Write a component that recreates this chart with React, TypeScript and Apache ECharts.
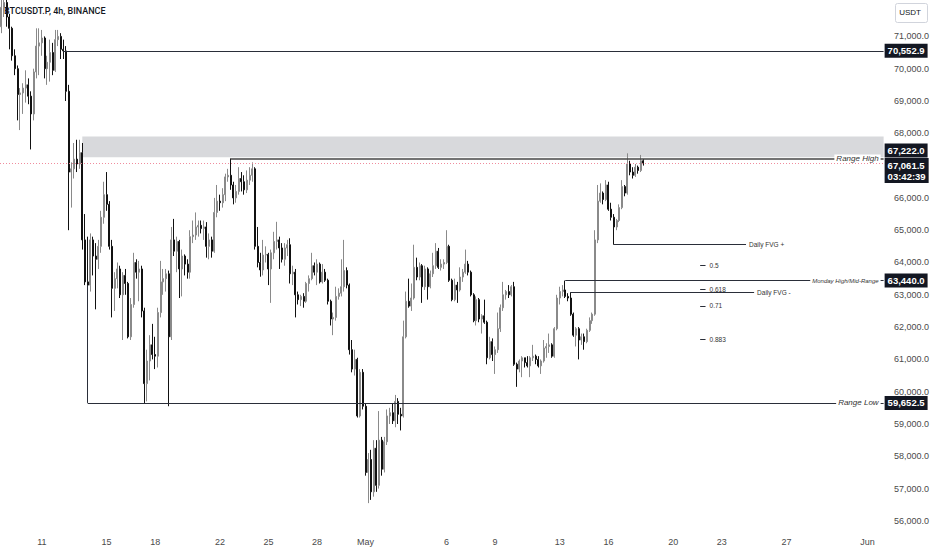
import React, { useEffect, useRef } from 'react';
import * as echarts from 'echarts';

// 4h slots from 2024-04-08 12:00 UTC up to the right edge (early June)
const START = Date.UTC(2024, 3, 8, 12);
const SLOT_COUNT = 328;
const LAST = SLOT_COUNT - 1;

// [open, close, low, high]
const candles: number[][] = [
  [71300, 71900, 71100, 72400], [71900, 72050, 71600, 72500], [72050, 71600, 71300, 72200], [71600, 71250, 70600, 71700],
  [71250, 70400, 70250, 71300], [70400, 70000, 69800, 70600], [70000, 69200, 68400, 70100], [69200, 69250, 68100, 69400],
  [69250, 69400, 68600, 69550], [69400, 69500, 68950, 69950], [69500, 69150, 68900, 69700], [69150, 68600, 67500, 69300],
  [68600, 69900, 68400, 70000], [69900, 70700, 69700, 71250], [70700, 70800, 69800, 71250], [70800, 70950, 70400, 71200],
  [70950, 70000, 69700, 71000], [70000, 70200, 69500, 70400], [70200, 70500, 69600, 70900], [70500, 69950, 69800, 70800],
  [69950, 70900, 69900, 71200], [70900, 71000, 70700, 71200], [71000, 70600, 70300, 71100], [70600, 70550, 70300, 70900],
  [70550, 69300, 69000, 70700], [69300, 66800, 65000, 69500], [66800, 66900, 65700, 67100], [66900, 67200, 66600, 67700],
  [67200, 67050, 66800, 67800], [67050, 67400, 66900, 67800], [67400, 64700, 64400, 67700], [64700, 63400, 63300, 65500],
  [63400, 63300, 62100, 64800], [63300, 64700, 63100, 64900], [64700, 64200, 63600, 64800], [64200, 64100, 62550, 64600],
  [64100, 64500, 63800, 64700], [64500, 65400, 64300, 65600], [65400, 66100, 65200, 66500], [66100, 65800, 65600, 66800],
  [65800, 64500, 64400, 65900], [64500, 63200, 62300, 64700], [63200, 63500, 62500, 63700], [63500, 63800, 63200, 64000],
  [63800, 63000, 62900, 63900], [63000, 63600, 61600, 63700], [63600, 63350, 63000, 63800], [63350, 61700, 61650, 63400],
  [61700, 62700, 61600, 62900], [62700, 64000, 62600, 64300], [64000, 63700, 63500, 64100], [63700, 63800, 62800, 64050],
  [63800, 62500, 62300, 63900], [62500, 60250, 59650, 62600], [60250, 60950, 59700, 61300], [60950, 61450, 60350, 61750],
  [61450, 61150, 61000, 62100], [61150, 61100, 60700, 61700], [61100, 62450, 60750, 62600], [62450, 63400, 62300, 64050],
  [63400, 63500, 63000, 63800], [63500, 63650, 63100, 63800], [63650, 61700, 59550, 63750], [61700, 64700, 61600, 65100],
  [64700, 64350, 64200, 65350], [64350, 64650, 63700, 64800], [64650, 63800, 62900, 64700], [63800, 64200, 62950, 64400],
  [64200, 63950, 63600, 64250], [63950, 63700, 63500, 64100], [63700, 64800, 63500, 65000], [64800, 64850, 64600, 65300],
  [64850, 65100, 64700, 65550], [65100, 65150, 64800, 65300], [65150, 65050, 64900, 65300], [65050, 65100, 64700, 65300],
  [65100, 64500, 64150, 65250], [64500, 64700, 64100, 64900], [64700, 64350, 64150, 64800], [64350, 65550, 64300, 66000],
  [65550, 65900, 65400, 66400], [65900, 65850, 65600, 66100], [65850, 66100, 65700, 66300], [66100, 66650, 65900, 66750],
  [66650, 66700, 66500, 66900], [66700, 66400, 66250, 67222], [66400, 66000, 65800, 66500], [66000, 66200, 65850, 66400],
  [66200, 66600, 66100, 66950], [66600, 66500, 66200, 66800], [66500, 66250, 66100, 66700], [66250, 66550, 66150, 66850],
  [66550, 66700, 66400, 66950], [66700, 66900, 66500, 67100], [66900, 64500, 64400, 66950], [64500, 64000, 63850, 65100],
  [64000, 63770, 63560, 64300], [63770, 64230, 63600, 64700], [64230, 64250, 64000, 64500], [64250, 63800, 63300, 64300],
  [63800, 64300, 62750, 64400], [64300, 64650, 64100, 64950], [64650, 64700, 64400, 65260], [64700, 64450, 63800, 64800],
  [64450, 64100, 64000, 64600], [64100, 64450, 63900, 64600], [64450, 64550, 64200, 64700], [64550, 63650, 63350, 64750],
  [63650, 63700, 63300, 63900], [63700, 63000, 62300, 63800], [63000, 62850, 62700, 63100], [62850, 62950, 62650, 63000],
  [62950, 62800, 62600, 63050], [62800, 63350, 62750, 63400], [63350, 63500, 63100, 63600], [63500, 63900, 63450, 64300],
  [63900, 63700, 63600, 64000], [63700, 63950, 63300, 64100], [63950, 63400, 63350, 64000], [63400, 63700, 63350, 63950],
  [63700, 63450, 63400, 63800], [63450, 62800, 62700, 63500], [62800, 62250, 62050, 62850], [62250, 62300, 61750, 62450],
  [62300, 62950, 62200, 63250], [62950, 63050, 62850, 63200], [63050, 63250, 62950, 64100], [63250, 63750, 63100, 64700],
  [63750, 63300, 63200, 63850], [63300, 61300, 61150, 63350], [61300, 60700, 60600, 61600], [60700, 61000, 60500, 61300],
  [61000, 59250, 59200, 61050], [59250, 60600, 59200, 60700], [60600, 59550, 59450, 60700], [59550, 57500, 57400, 59650],
  [57500, 57900, 56550, 58100], [57900, 56900, 56650, 58200], [56900, 58250, 56750, 58500], [58250, 57100, 56900, 58500],
  [57100, 58500, 57000, 59400], [58500, 57600, 57400, 58600], [57600, 58450, 57500, 58600], [58450, 59250, 58350, 59450],
  [59250, 59350, 59000, 59500], [59350, 59100, 59000, 59650], [59100, 59700, 58900, 59900], [59700, 59300, 59000, 59800],
  [59300, 59250, 58800, 59500], [59250, 61700, 59200, 62200], [61700, 62800, 61650, 63100], [62800, 62650, 62600, 63500],
  [62650, 62900, 62500, 63350], [62900, 63850, 62850, 64550], [63850, 63550, 63450, 64150], [63550, 63900, 63450, 64000],
  [63900, 63250, 62750, 63950], [63250, 63800, 63150, 63900], [63800, 63250, 62850, 63850], [63250, 63650, 63200, 63750],
  [63650, 63900, 63550, 64300], [63900, 64350, 63800, 64600], [64350, 63850, 63800, 64450], [63850, 63950, 63750, 64100],
  [63950, 64000, 63800, 64100], [64000, 64500, 63950, 65000], [64500, 63450, 63400, 64550], [63450, 62850, 62800, 63500],
  [62850, 63300, 62800, 63500], [63300, 63150, 62750, 63400], [63150, 63550, 63100, 63850], [63550, 63700, 63400, 63800],
  [63700, 63950, 63650, 64400], [63950, 63700, 63600, 64050], [63700, 63000, 62950, 63750], [63000, 62200, 62150, 63050],
  [62200, 62850, 62050, 62950], [62850, 62250, 62150, 62900], [62250, 62350, 61800, 62400], [62350, 62150, 62100, 62850],
  [62150, 61050, 60850, 62200], [61050, 61550, 61000, 61700], [61550, 61150, 60950, 61650], [61150, 61300, 60550, 61400],
  [61300, 61950, 61200, 62450], [61950, 62600, 61850, 62700], [62600, 63000, 62500, 63400], [63000, 63100, 62850, 63150],
  [63100, 63000, 62900, 63300], [63000, 63250, 62950, 63300], [63250, 60850, 60800, 63400], [60850, 60700, 60150, 60900],
  [60700, 60950, 60600, 61000], [60950, 61050, 60450, 61100], [61050, 60900, 60750, 61050], [60900, 60800, 60750, 61100],
  [60800, 61050, 60450, 61100], [61050, 61100, 60950, 61450], [61100, 61000, 60850, 61150], [61000, 60800, 60750, 61100],
  [60800, 60950, 60550, 61000], [60950, 61350, 60900, 61600], [61350, 61400, 61050, 61500], [61400, 61450, 61200, 61800],
  [61450, 61100, 61050, 61500], [61100, 61950, 61050, 62000], [61950, 62900, 61900, 63000], [62900, 63100, 62700, 63250],
  [63100, 63150, 62950, 63300], [63150, 62950, 62900, 63440], [62950, 62900, 62800, 63050], [62900, 62400, 62350, 63080],
  [62400, 61750, 61700, 62450], [61750, 61950, 61400, 62000], [61950, 61600, 61000, 62000], [61600, 61700, 61450, 61800],
  [61700, 61550, 61300, 61800], [61550, 61900, 61500, 61950], [61900, 62200, 61850, 62300], [62200, 62400, 62100, 62450],
  [62400, 64700, 62350, 65000], [64700, 65900, 64600, 66400], [65900, 66150, 65850, 66450], [66150, 65950, 65800, 66200],
  [65950, 66400, 65900, 66550], [66400, 65650, 65600, 66500], [65650, 65400, 65300, 65850], [65400, 65100, 64550, 65500],
  [65100, 65300, 65000, 65350], [65300, 65700, 65250, 65800], [65700, 66350, 65650, 66550], [66350, 66150, 66050, 66400],
  [66150, 67050, 66100, 67380], [67050, 66800, 66700, 67150], [66800, 66700, 66600, 66950], [66700, 66950, 66650, 67050],
  [66950, 66850, 66750, 67000], [66850, 67150, 66800, 67330], [67150, 67061.5, 67000, 67200],
];

// price-scale labels (67,000 is hidden behind the price tags)
const priceTicks = [56000, 57000, 58000, 59000, 60000, 61000, 62000, 63000, 64000, 65000, 66000, 68000, 69000, 70000, 71000];

// time-scale labels
const tickDays = ['2024-04-11', '2024-04-15', '2024-04-18', '2024-04-22', '2024-04-25', '2024-04-28', '2024-05-01',
  '2024-05-06', '2024-05-09', '2024-05-13', '2024-05-16', '2024-05-20', '2024-05-23', '2024-05-27', '2024-06-01'];
const tickTexts = ['11', '15', '18', '22', '25', '28', 'May', '6', '9', '13', '16', '20', '23', '27', 'Jun'];

// drawn levels
const topLevel = 70552.9;
const rangeHigh = 67222.0;
const rangeLow = 59652.5;
const mondayHigh = 63440.0;
const fvgUp = 64550;
const fvgDown = 63080;
const lastPrice = 67061.5;
const countdown = '03:42:39';
const zoneBounds = [67260, 67900];
const bracketTop = 63300;
const fibNames = ['0.5', '0.618', '0.71', '0.883'];
const fibValues = [63900, 63170, 62660, 61630];

// slot indices where drawings are anchored
const topLevelStart = 23;
const zoneStart = 30;
const rangeLowStart = 32;
const rangeHighStart = 85;
const mondayStart = 209;
const fvgDownStart = 211;
const fvgUpStart = 227;
const fibStart = 259;
const fibEnd = 261;
const fvgUpEnd = 276;
const fvgDownEnd = 279;

const FONT = 'Liberation Sans';
const LINE = '#2a2e39';

const fmt = (v: number) =>
  v.toLocaleString('en-US', { minimumFractionDigits: 1, maximumFractionDigits: 1 });

const categories: string[] = [];
for (let i = 0; i < SLOT_COUNT; i++) {
  const d = new Date(START + i * 4 * 3600 * 1000);
  categories.push(d.toISOString().slice(0, 13).replace('T', ' ') + ':00');
}
const tickMap = new Map<string, string>();
tickDays.forEach((d, i) => tickMap.set(d + ' 00:00', tickTexts[i]));

const segment = (x0: number, x1: number, v: number, extra: any = {}) => [
  { coord: [x0, v], ...extra },
  { coord: [x1, v] },
];

const tag = (v: number, text: string, dy: number) => ({
  coord: [LAST, v],
  symbol: 'circle',
  symbolSize: 0,
  label: {
    show: true,
    position: 'right',
    distance: 1,
    offset: [0, dy],
    formatter: text,
    color: '#ffffff',
    backgroundColor: '#131722',
    padding: [2, 3, 1, 3],
    fontFamily: FONT,
    fontSize: 9.5,
    fontWeight: 'bold',
    lineHeight: 11,
  },
});

const nameLabel = (v: number, text: string, size: number) => ({
  coord: [LAST, v],
  symbol: 'circle',
  symbolSize: 0,
  label: {
    show: true,
    position: 'left',
    distance: 3,
    formatter: text,
    color: '#333333',
    backgroundColor: '#ffffff',
    padding: [0, 2],
    fontFamily: FONT,
    fontStyle: 'italic',
    fontSize: size,
  },
});

const smallEndLabel = (text: string, dist: number) => ({
  show: true,
  position: 'end',
  distance: dist,
  formatter: text,
  color: '#333333',
  fontFamily: FONT,
  fontSize: 6.5,
});

const App: React.FC = () => {
  const chartRef = useRef<HTMLDivElement>(null);

  useEffect(() => {
    document.body.style.margin = '0';
    if (!chartRef.current) return;
    const chart = echarts.init(chartRef.current, undefined, { renderer: 'svg' });

    const lineData: any[] = [
      segment(topLevelStart, LAST, topLevel),
      segment(rangeHighStart, LAST, rangeHigh, { lineStyle: { color: '#444', width: 1.5 } }),
      segment(rangeLowStart, LAST, rangeLow),
      [{ coord: [rangeLowStart, bracketTop] }, { coord: [rangeLowStart, rangeLow] }],
      segment(mondayStart, LAST, mondayHigh),
      segment(fvgUpStart, fvgUpEnd, fvgUp, { label: smallEndLabel('Daily FVG +', 3) }),
      segment(fvgDownStart, fvgDownEnd, fvgDown, { label: smallEndLabel('Daily FVG -', 3) }),
      ...fibValues.map((v, i) => segment(fibStart, fibEnd, v, { label: smallEndLabel(fibNames[i], 4) })),
      {
        yAxis: lastPrice,
        lineStyle: { color: '#ee7f92', type: [1, 2], width: 1, opacity: 0.9 },
      },
    ];

    chart.setOption({
      animation: false,
      backgroundColor: '#ffffff',
      textStyle: { fontFamily: FONT },
      title: {
        text: 'BTCUSDT.P, 4h, BINANCE',
        left: 4,
        top: 6,
        padding: 0,
        textStyle: { fontFamily: 'Roboto', fontSize: 9, fontWeight: 500, color: '#131722' },
      },
      grid: { left: 0, right: 44, top: 0, height: 531 },
      xAxis: {
        type: 'category',
        data: categories,
        boundaryGap: true,
        axisLine: { show: false },
        axisTick: { show: false },
        splitLine: { show: false },
        axisLabel: {
          interval: (_i: number, v: string) => tickMap.has(v),
          formatter: (v: string) => tickMap.get(v) ?? '',
          color: '#4a4a4a',
          fontSize: 9,
          margin: 6,
        },
      },
      yAxis: {
        type: 'value',
        position: 'right',
        min: 55687,
        max: 72127,
        splitLine: { show: false },
        axisLine: { show: false },
        axisTick: { show: false },
        axisLabel: {
          customValues: priceTicks,
          formatter: (v: number) => fmt(v),
          color: '#4a4a4a',
          fontSize: 9,
          margin: 9,
        },
      },
      graphic: [
        {
          type: 'rect',
          right: 4,
          top: 3,
          shape: { width: 32, height: 19, r: 2 },
          style: { fill: '#ffffff', stroke: '#d1d4dc', lineWidth: 1 },
        },
        {
          type: 'text',
          right: 11,
          top: 8,
          style: { text: 'USDT', fill: '#131722', fontSize: 8, fontFamily: FONT },
        },
      ],
      series: [
        {
          type: 'candlestick',
          data: candles,
          barWidth: 1.5,
          itemStyle: {
            color: '#8a8a8a',
            color0: '#111111',
            borderColor: '#8a8a8a',
            borderColor0: '#111111',
            borderWidth: 1,
          },
          markArea: {
            silent: true,
            itemStyle: { color: '#d8d9dc' },
            data: [[{ coord: [zoneStart, zoneBounds[1]] }, { coord: [LAST, zoneBounds[0]] }]],
          },
          markLine: {
            silent: true,
            symbol: ['none', 'none'],
            lineStyle: { color: LINE, width: 1, type: 'solid' },
            label: { show: false },
            data: lineData,
          },
          markPoint: {
            silent: true,
            z: 8,
            data: [
              nameLabel(rangeHigh, 'Range High', 8),
              nameLabel(rangeLow, 'Range Low', 8),
              nameLabel(mondayHigh, 'Monday High/Mid-Range', 6),
              tag(topLevel, fmt(topLevel), 0),
              tag(rangeHigh, fmt(rangeHigh), -8),
              tag(lastPrice, fmt(lastPrice) + '\n' + countdown, 7),
              tag(mondayHigh, fmt(mondayHigh), 0),
              tag(rangeLow, fmt(rangeLow), 0),
            ],
          },
        },
      ],
    });

    return () => chart.dispose();
  }, []);

  return <div ref={chartRef} style={{ width: 932, height: 550 }} />;
};

export default App;
